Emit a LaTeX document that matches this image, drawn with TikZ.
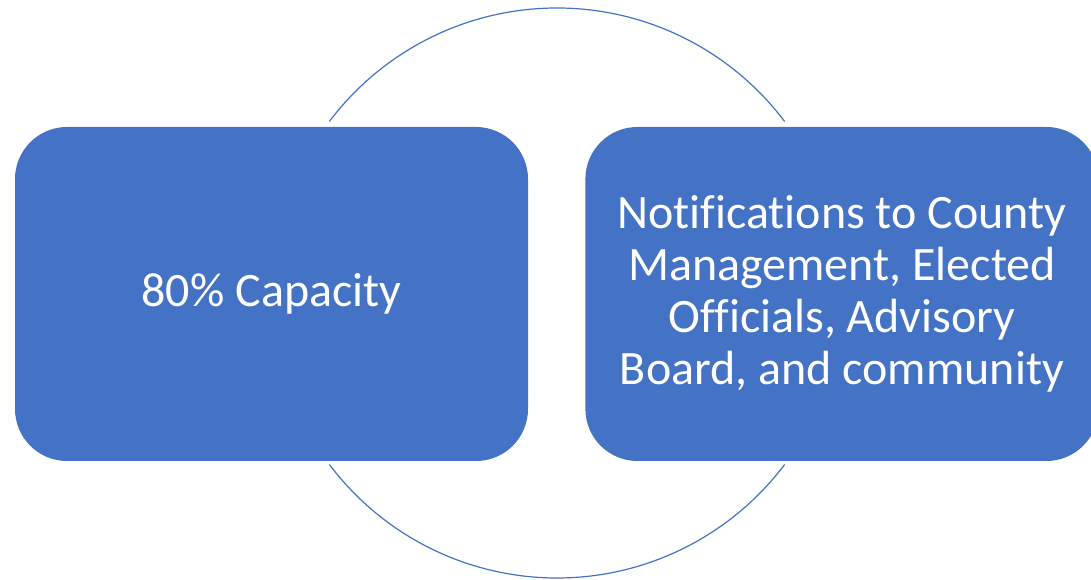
\documentclass[tikz,border=0pt]{standalone}
\usepackage{fontspec}
\setmainfont{Carlito}[Ligatures=CommonOff]
\usetikzlibrary{positioning}
\definecolor{boxblue}{RGB}{68,114,196}

\tikzset{
	stage/.style={fill=boxblue, text=white, rounded corners=52pt, minimum width=513pt, minimum height=334pt, align=center, font=\fontsize{48}{52}\selectfont, inner sep=0pt},
	ring/.style={boxblue, line width=1.2pt}
}

\begin{document}
\begin{tikzpicture}[x=1pt,y=1pt]
		\useasboundingbox (0,0) rectangle (1091,580);
		\clip (0,0) rectangle (1091,580);
		\coordinate (hub) at (557,287);
		
		%----------------------------------------------------------------
		\draw [ring] (hub) ++(37:285) arc[start angle=37, end angle=143, radius=285];
		\draw [ring] (hub) ++(217:285) arc[start angle=217, end angle=323, radius=285];
		
		%----------------------------------------------------------------
		\node(capacity) [stage] at (271.5,286) {80\% Capacity};
		\node(notify) [stage, right=57pt of capacity] {Notifications to County\\ Management, Elected\\ Officials, Advisory\\ Board, and community};
		
	\end{tikzpicture}
\end{document}
